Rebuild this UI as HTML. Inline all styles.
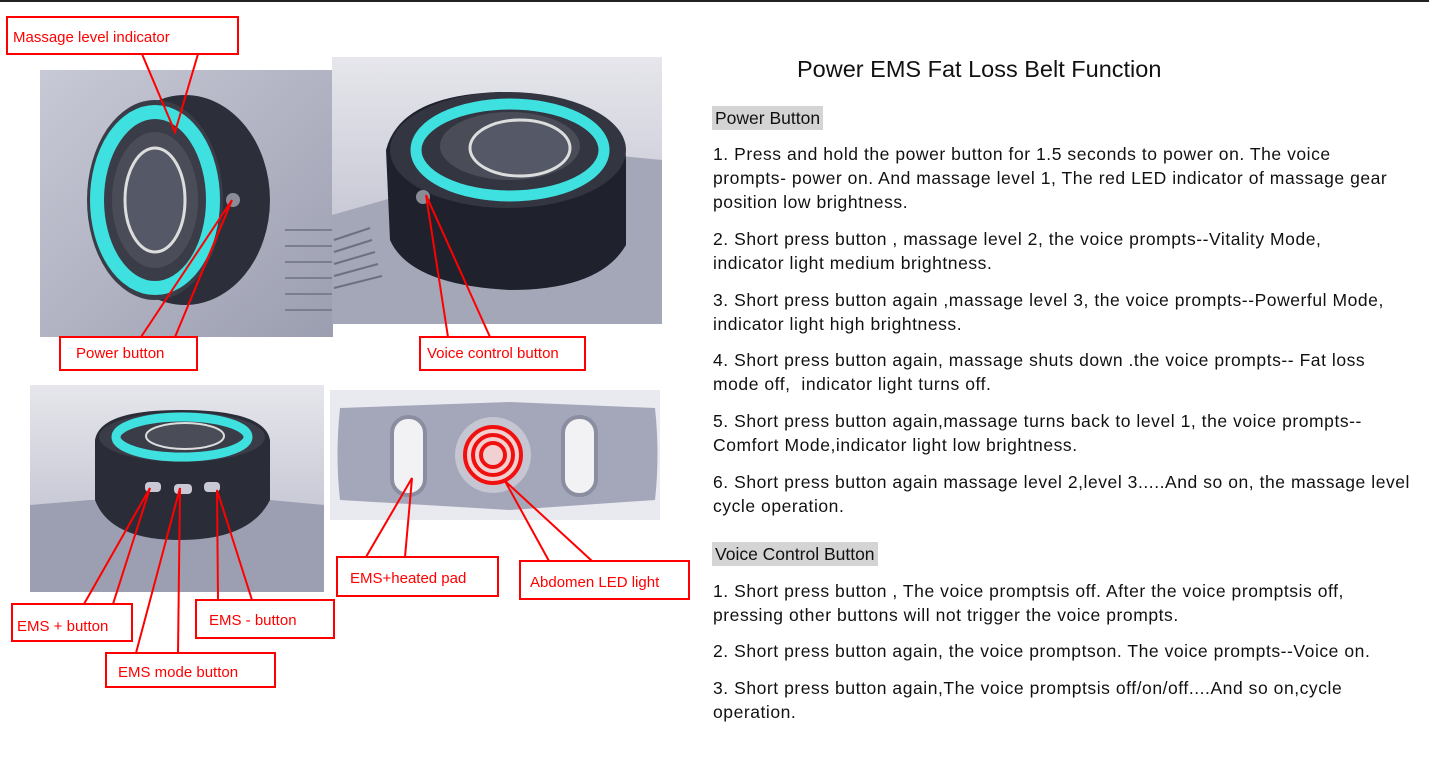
<!DOCTYPE html>
<html><head><meta charset="utf-8"><style>
body{margin:0;width:1429px;height:779px;background:#fff;position:relative;overflow:hidden;font-family:"Liberation Sans",sans-serif}
.t{position:absolute;left:713px;font-size:17.5px;line-height:24px;color:#111;white-space:nowrap;letter-spacing:0.55px}
.h{position:absolute;left:712px;font-size:17.5px;background:#d4d4d4;padding:1px 3px;color:#111;line-height:22px}
</style></head><body>
<div style="position:absolute;left:0;top:0;width:1429px;height:2px;background:#222"></div>
<svg width="700" height="779" style="position:absolute;left:0;top:0" font-family="Liberation Sans, sans-serif" font-size="15">
<defs>
<linearGradient id="bg" x1="0" y1="0" x2="1" y2="1"><stop offset="0" stop-color="#c8c9d6"/><stop offset="1" stop-color="#9b9eb0"/></linearGradient>
<linearGradient id="bg2" x1="0" y1="0" x2="0" y2="1"><stop offset="0" stop-color="#e6e6ec"/><stop offset="1" stop-color="#b4b6c6"/></linearGradient>
</defs>
<rect x="40" y="70" width="293" height="267" fill="url(#bg)"/>
<g stroke="#7b7e8e" stroke-width="2"><line x1="285" y1="230" x2="332" y2="230"/><line x1="285" y1="246" x2="332" y2="246"/><line x1="285" y1="262" x2="332" y2="262"/><line x1="285" y1="278" x2="332" y2="278"/><line x1="285" y1="294" x2="332" y2="294"/><line x1="285" y1="310" x2="332" y2="310"/></g>
<ellipse cx="185" cy="200" rx="85" ry="105" fill="#2c2f3a"/>
<ellipse cx="155" cy="200" rx="68" ry="100" fill="#3a3d48"/>
<ellipse cx="155" cy="200" rx="58" ry="88" fill="none" stroke="#3fe0e0" stroke-width="14"/>
<ellipse cx="155" cy="200" rx="43" ry="68" fill="#4a4d58"/>
<ellipse cx="155" cy="200" rx="30" ry="52" fill="#555866" stroke="#ddd" stroke-width="3"/>
<circle cx="233" cy="200" r="7" fill="#8a8d98"/>
<rect x="332" y="57" width="330" height="267" fill="url(#bg2)"/>
<polygon points="332,215 560,150 662,160 662,324 332,324" fill="#a4a7b8"/>
<g stroke="#6d7080" stroke-width="2"><line x1="334" y1="240" x2="370" y2="228"/><line x1="334" y1="252" x2="372" y2="240"/><line x1="334" y1="264" x2="375" y2="252"/><line x1="334" y1="276" x2="378" y2="264"/><line x1="334" y1="288" x2="382" y2="276"/></g>
<path d="M386 150 Q400 95 500 92 Q625 95 626 160 L626 245 Q600 290 510 290 Q410 285 390 240 Z" fill="#1f222c"/>
<ellipse cx="508" cy="150" rx="118" ry="58" fill="#333641"/>
<ellipse cx="510" cy="150" rx="94" ry="46" fill="none" stroke="#3fe0e0" stroke-width="11"/>
<ellipse cx="510" cy="146" rx="70" ry="34" fill="#4a4d58"/>
<ellipse cx="520" cy="148" rx="50" ry="28" fill="#555866" stroke="#ddd" stroke-width="3"/>
<circle cx="423" cy="197" r="7" fill="#8a8d98"/>
<rect x="30" y="385" width="294" height="207" fill="url(#bg2)"/>
<polygon points="30,505 90,500 270,500 324,505 324,592 30,592" fill="#9c9fb2"/>
<path d="M95 440 Q100 410 180 410 Q265 410 270 440 L270 500 Q250 540 180 540 Q110 540 95 500 Z" fill="#2a2d38"/>
<ellipse cx="182" cy="437" rx="83" ry="25" fill="#3a3d48"/>
<ellipse cx="182" cy="437" rx="66" ry="20" fill="none" stroke="#3fe0e0" stroke-width="9"/>
<ellipse cx="185" cy="436" rx="39" ry="13" fill="#4a4d58" stroke="#ddd" stroke-width="2"/>
<rect x="145" y="482" width="16" height="10" rx="4" fill="#c8c9d4"/><rect x="174" y="484" width="18" height="10" rx="4" fill="#c8c9d4"/><rect x="204" y="482" width="16" height="10" rx="4" fill="#c8c9d4"/>
<rect x="330" y="390" width="330" height="130" fill="#e9eaf0"/>
<path d="M340 408 L510 402 L655 408 Q660 455 655 500 L510 510 L340 500 Q335 455 340 408 Z" fill="#a4a7ba"/>
<rect x="392" y="417" width="33" height="78" rx="16" fill="#f2f2f5" stroke="#8b8ea0" stroke-width="4"/>
<rect x="563" y="417" width="33" height="78" rx="16" fill="#f2f2f5" stroke="#8b8ea0" stroke-width="4"/>
<circle cx="493" cy="455" r="38" fill="#c5c6d2"/>
<circle cx="493" cy="455" r="30" fill="#f0d0d0"/>
<g fill="none" stroke="#f01010" stroke-width="4"><circle cx="493" cy="455" r="28"/><circle cx="493" cy="455" r="20"/><circle cx="493" cy="455" r="12"/></g>
<g fill="none" stroke="#f00" stroke-width="2">
<rect x="7" y="17" width="231" height="37"/>
<polyline points="142,54 175,132 198,54"/>
<rect x="60" y="337" width="137" height="33"/>
<polyline points="141,337 232,200 175,337"/>
<rect x="420" y="337" width="165" height="33"/>
<polyline points="448,337 426,195 490,337"/>
<rect x="337" y="557" width="161" height="39"/>
<polyline points="366,557 412,478 405,557"/>
<rect x="520" y="561" width="169" height="38"/>
<polyline points="549,561 505,481 592,561"/>
<rect x="12" y="604" width="120" height="37"/>
<polyline points="84,604 150,488 113,604"/>
<rect x="196" y="600" width="138" height="38"/>
<polyline points="218,600 217,490 252,600"/>
<rect x="106" y="653" width="169" height="34"/>
<polyline points="136,653 180,488 178,653"/>
</g>
<g fill="#f00">
<text x="13" y="42">Massage level indicator</text>
<text x="76" y="358">Power button</text>
<text x="427" y="358">Voice control button</text>
<text x="350" y="583">EMS+heated pad</text>
<text x="530" y="587">Abdomen LED light</text>
<text x="17" y="631">EMS + button</text>
<text x="209" y="625">EMS - button</text>
<text x="118" y="677">EMS mode button</text>
</g>
</svg>
<div style="position:absolute;left:797px;top:56px;font-size:23.5px;color:#111">Power EMS Fat Loss Belt Function</div>
<div class="h" style="top:106px">Power Button</div>
<div class="t" style="top:142px">1. Press and hold the power button for 1.5 seconds to power on. The voice<br>prompts- power on. And massage level 1, The red LED indicator of massage gear<br>position low brightness.</div>
<div class="t" style="top:227px">2. Short press button , massage level 2, the voice prompts--Vitality Mode,<br>indicator light medium brightness.</div>
<div class="t" style="top:288px">3. Short press button again ,massage level 3, the voice prompts--Powerful Mode,<br>indicator light high brightness.</div>
<div class="t" style="top:348px">4. Short press button again, massage shuts down .the voice prompts-- Fat loss<br>mode off,&nbsp; indicator light turns off.</div>
<div class="t" style="top:409px">5. Short press button again,massage turns back to level 1, the voice prompts--<br>Comfort Mode,indicator light low brightness.</div>
<div class="t" style="top:470px">6. Short press button again massage level 2,level 3.....And so on, the massage level<br>cycle operation.</div>
<div class="h" style="top:542px">Voice Control Button</div>
<div class="t" style="top:579px">1. Short press button , The voice promptsis off. After the voice promptsis off,<br>pressing other buttons will not trigger the voice prompts.</div>
<div class="t" style="top:639px">2. Short press button again, the voice promptson. The voice prompts--Voice on.</div>
<div class="t" style="top:676px">3. Short press button again,The voice promptsis off/on/off....And so on,cycle<br>operation.</div>
</body></html>
